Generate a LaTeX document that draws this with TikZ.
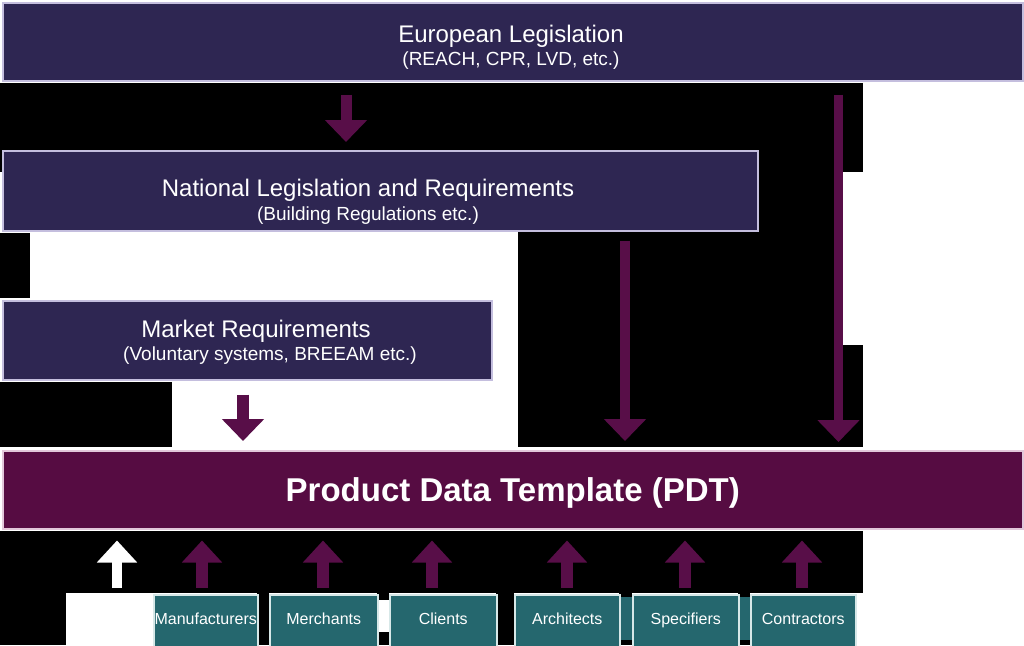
\documentclass[tikz,border=0pt]{standalone}
\usepackage{fontspec}
\setmainfont{Liberation Sans}
\usetikzlibrary{arrows.meta}
\definecolor{navy}{RGB}{46,38,82}
\definecolor{plum}{RGB}{86,12,66}
\definecolor{arrc}{RGB}{88,14,72}
\definecolor{tealc}{RGB}{37,103,110}
\definecolor{lav}{RGB}{196,190,222}
\definecolor{pinkb}{RGB}{226,200,218}
\definecolor{tealb}{RGB}{215,232,232}
\begin{document}
\begin{tikzpicture}[x=1pt,y=-1pt,
  box/.style={rectangle, anchor=north west, inner sep=0pt, line width=1.5pt},
  legbox/.style={box, fill=navy, draw=lav},
  pdtbox/.style={box, fill=plum, draw=pinkb, text=white, text height=24pt, text depth=0pt, font=\fontsize{33}{38}\selectfont\bfseries},
  actor/.style={box, fill=tealc, draw=tealb, text=white, minimum height=52pt, text height=11.5pt, text depth=3.5pt, font=\fontsize{16}{19}\selectfont},
  ttl/.style={anchor=base, text=white, inner sep=0pt, font=\fontsize{24}{28}\selectfont},
  sub/.style={anchor=base, text=white, inner sep=0pt, font=\fontsize{19}{22}\selectfont},
  dnarrow/.style={draw=arrc, line width=#1, -{Triangle[width=41pt,length=22pt]}},
  uparrow/.style={draw=arrc, line width=12pt, -{Triangle[width=39pt,length=22pt]}}
]
\useasboundingbox (0,0) rectangle (1024,645);
% black background patches
\fill[black] (0,83) rectangle (863,172);
\fill[black] (757,150) rectangle (843,345);
\fill[black] (518,232) rectangle (843,447);
\fill[black] (518,345) rectangle (863,447);
\fill[black] (0,233) rectangle (30,298);
\fill[black] (0,382) rectangle (172,447);
\fill[black] (0,531) rectangle (863,593);
\fill[black] (0,593) rectangle (66,645);
\fill[black] (257,593) rectangle (269,645);
\fill[black] (377,593) rectangle (389,600);
\fill[black] (377,632) rectangle (389,645);
\fill[black] (496,593) rectangle (514,645);
\fill[black] (619,593) rectangle (632,645);
\fill[black] (738,593) rectangle (750,645);
\fill[tealc] (619,597) rectangle (632,640);
\fill[tealc] (738,597) rectangle (750,640);

% boxes
\node[legbox, minimum width=1020pt, minimum height=78pt] (eu) at (2,2) {};
\node[legbox, minimum width=755pt, minimum height=80pt] (nat) at (2,150) {};
\node[legbox, minimum width=489pt, minimum height=79pt] (mkt) at (2,300) {};
\node[pdtbox, minimum width=1020pt, minimum height=78pt] (pdt) at (2,450) {Product Data Template (PDT)};

\node[ttl] (eut) at (511,42) {European Legislation};
\node[sub] (eus) at (511,65) {(REACH, CPR, LVD, etc.)};
\node[ttl] (natt) at (368,196) {National Legislation and Requirements};
\node[sub] (nats) at (368,220) {(Building Regulations etc.)};
\node[ttl] (mktt) at (256,337) {Market Requirements};
\node[sub] (mkts) at (270,360) {(Voluntary systems, BREEAM etc.)};

\node[actor, minimum width=104pt] (man) at (153,594) {Manufacturers};
\node[actor, minimum width=108pt] (mer) at (269,594) {Merchants};
\node[actor, minimum width=107pt] (cli) at (389,594) {Clients};
\node[actor, minimum width=105pt] (arc) at (514,594) {Architects};
\node[actor, minimum width=106pt] (spe) at (632,594) {Specifiers};
\node[actor, minimum width=105pt] (con) at (750,594) {Contractors};

% arrow x positions
\coordinate (xa1) at (346,0);
\coordinate (xa2) at (625,0);
\coordinate (xa3) at (838.5,0);
\coordinate (xa4) at (243,0);
\coordinate (xw) at (117,588);
\coordinate (xman) at (202,0);
\coordinate (xmer) at (323,0);
\coordinate (xcli) at (432,0);
\coordinate (xarc) at (567,0);
\coordinate (xspe) at (685,0);
\coordinate (xcon) at (802,0);

% down arrows
\draw[dnarrow=11pt, shorten <=13pt, shorten >=8pt] (xa1 |- eu.south) -- (xa1 |- nat.north);
\draw[dnarrow=10pt, shorten <=9pt, shorten >=9pt] (xa2 |- nat.south) -- (xa2 |- pdt.north);
\draw[dnarrow=9.5pt, shorten <=13pt, shorten >=8pt] (xa3 |- eu.south) -- (xa3 |- pdt.north);
\draw[dnarrow=12pt, shorten <=14pt, shorten >=9pt] (xa4 |- mkt.south) -- (xa4 |- pdt.north);

% up arrows
\draw[uparrow, draw=white, line width=10pt, shorten >=11pt] (xw) -- (xw |- pdt.south);
\draw[uparrow, shorten <=6pt, shorten >=11pt] (xman |- man.north) -- (xman |- pdt.south);
\draw[uparrow, shorten <=6pt, shorten >=11pt] (xmer |- mer.north) -- (xmer |- pdt.south);
\draw[uparrow, shorten <=6pt, shorten >=11pt] (xcli |- cli.north) -- (xcli |- pdt.south);
\draw[uparrow, shorten <=6pt, shorten >=11pt] (xarc |- arc.north) -- (xarc |- pdt.south);
\draw[uparrow, shorten <=6pt, shorten >=11pt] (xspe |- spe.north) -- (xspe |- pdt.south);
\draw[uparrow, shorten <=6pt, shorten >=11pt] (xcon |- con.north) -- (xcon |- pdt.south);
\end{tikzpicture}
\end{document}
